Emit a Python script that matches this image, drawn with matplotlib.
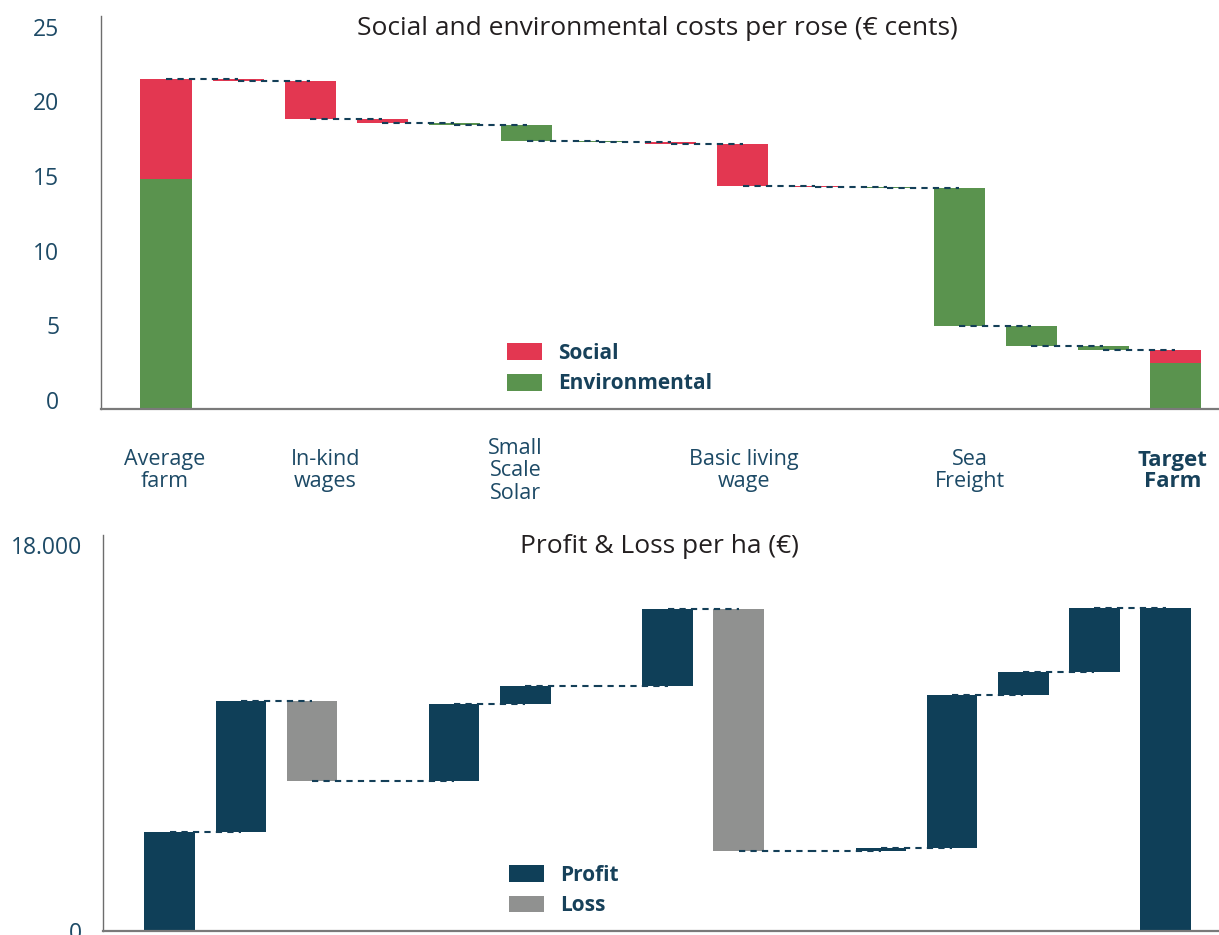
import matplotlib
matplotlib.use('Agg')
import matplotlib.pyplot as plt
import matplotlib.transforms as mtransforms
import numpy as np

plt.rcParams['font.family'] = ['Open Sans', 'DejaVu Sans']

# ---------------- data: costs per rose (EUR cents) ----------------
avg_env = 15.4
avg_social = 6.7
social_delta = [-0.13, -2.54, -0.29, 0, 0, 0, -0.09, -2.83, -0.08, 0, 0, 0, 0]
env_delta = [0, 0, 0, -0.15, -1.03, -0.11, 0, 0, 0, -0.05, -9.21, -1.34, -0.29]
target_env = 3.06
target_social = 0.91
cost_label_pos = [0, 2, 5, 8, 11, 14]
cost_labels = ['Average\nfarm', 'In-kind\nwages', 'Small\nScale\nSolar',
               'Basic living\nwage', 'Sea\nFreight', 'Target\nFarm']
cost_yticks = [0, 5, 10, 15, 20, 25]

# ---------------- data: profit & loss per ha (EUR) ----------------
pl_start = 4600
pl_delta = [6100, -3700, 0, 3600, 800, 0, 3600, -11300, 0, 170, 7140, 1040, 3000]
pl_target = 15050
pl_yticks = [0, 18000]
pl_yticklabels = ['0', '18.000']

# ---------------- styles ----------------
RED = '#E33751'
GREEN = '#5A934E'
NAVY = '#0F3F58'
GRAY = '#909190'
TXT = '#1D4A66'
TITLE = '#231F20'
W = 0.71
DASH = (0, (3, 2.5))

FW, FH = 1219, 935
fig = plt.figure(figsize=(FW / 100, FH / 100), dpi=100)

def frac(l, t, r, b):
    return [l / FW, 1 - b / FH, (r - l) / FW, (b - t) / FH]

ax1 = fig.add_axes(frac(101, 16, 1219, 409))
ax2 = fig.add_axes(frac(103, 535, 1219, 930.7))

for ax in (ax1, ax2):
    for s in ('top', 'right'):
        ax.spines[s].set_visible(False)
    ax.spines['left'].set_color('#6d6d6d')
    ax.spines['left'].set_linewidth(1.0)
    ax.spines['bottom'].set_color('#7a7a7a')
    ax.spines['bottom'].set_linewidth(1.6)
    ax.tick_params(length=0)

# ---------------- top chart ----------------
n = len(social_delta)
ax1.bar(0, avg_env, W, color=GREEN, label='Environmental', zorder=2)
ax1.bar(0, avg_social, W, bottom=avg_env, color=RED, label='Social', zorder=2)
cum = avg_env + avg_social
levels = [cum]
for i, (s, e) in enumerate(zip(social_delta, env_delta)):
    d = s + e
    ax1.bar(i + 1, d, W, bottom=cum, color=RED if s != 0 else GREEN, zorder=2)
    cum += d
    levels.append(cum)
ax1.bar(n + 1, target_env, W, color=GREEN, zorder=2)
ax1.bar(n + 1, target_social, W, bottom=target_env, color=RED, zorder=2)
for i, lv in enumerate(levels):
    ax1.plot([i, i + 1], [lv, lv], ls=DASH, color='#143F58', lw=1.5, zorder=3)

sp1 = 72.1
ax1.set_xlim((101 - 166) / sp1, (1219 - 166) / sp1)
ax1.set_ylim(0, 393 / 14.93)
ax1.set_yticks(cost_yticks)
ax1.set_yticklabels([str(v) for v in cost_yticks], fontsize=16.5, color=TXT)
for lbl in ax1.get_yticklabels():
    lbl.set_va('baseline')
ax1.tick_params(axis='y', pad=30)
ax1.set_xticks(cost_label_pos)
ax1.set_xticklabels(cost_labels, fontsize=15.5, color=TXT, linespacing=1.08)
ax1.tick_params(axis='x', pad=44.5)
xoffs = [-1, 15, -11, 1, 11, -3]
for lbl, off in zip(ax1.get_xticklabels(), xoffs):
    lbl.set_va('center')
    lbl.set_transform(lbl.get_transform() + mtransforms.ScaledTranslation(off / 100, 0, fig.dpi_scale_trans))
last = ax1.get_xticklabels()[-1]
last.set_fontweight('bold')
last.set_color('#17415A')
last.set_fontsize(16)
last.set_linespacing(1.0)
ax1.text(0.498, 0.969, 'Social and environmental costs per rose (€ cents)',
         transform=ax1.transAxes, ha='center', va='center', fontsize=19, color=TITLE)
h, l = ax1.get_legend_handles_labels()
ax1.legend([h[1], h[0]], [l[1], l[0]], loc='upper left',
           bbox_to_anchor=(507 / FW, 1 - 343 / FH), bbox_transform=fig.transFigure,
           frameon=False, borderpad=0, borderaxespad=0, handlelength=1.7, handleheight=0.88,
           handletextpad=0.75, labelspacing=0.45,
           prop={'weight': 'bold', 'size': 15}, labelcolor='#17415A')

# ---------------- bottom chart ----------------
ax2.bar(0, pl_start, W, color=NAVY, label='Profit', zorder=2)
cum = pl_start
levels = [cum]
loss_done = False
for i, d in enumerate(pl_delta):
    if d < 0 and not loss_done:
        ax2.bar(i + 1, d, W, bottom=cum, color=GRAY, label='Loss', zorder=2)
        loss_done = True
    else:
        ax2.bar(i + 1, d, W, bottom=cum, color=GRAY if d < 0 else NAVY, zorder=2)
    cum += d
    levels.append(cum)
ax2.bar(len(pl_delta) + 1, pl_target, W, color=NAVY, zorder=2)
for i, lv in enumerate(levels):
    ax2.plot([i, i + 1], [lv, lv], ls=DASH, color='#143F58', lw=1.5, zorder=3)

sp2 = 71.13
ax2.set_xlim((103 - 169.7) / sp2, (1219 - 169.7) / sp2)
ax2.set_ylim(0, 395.7 * 18000 / (930.7 - 545))
ax2.set_xticks([])
ax2.set_yticks(pl_yticks)
ax2.set_yticklabels(pl_yticklabels, fontsize=16.5, color=TXT)
ax2.tick_params(axis='y', pad=15)
ax2.text(0.499, 0.970, 'Profit & Loss per ha (€)', transform=ax2.transAxes,
         ha='center', va='center', fontsize=19, color=TITLE)
ax2.legend(loc='upper left', bbox_to_anchor=(509 / FW, 1 - 865 / FH), bbox_transform=fig.transFigure,
           frameon=False, borderpad=0, borderaxespad=0, handlelength=1.7, handleheight=0.85,
           handletextpad=0.75, labelspacing=0.45,
           prop={'weight': 'bold', 'size': 15}, labelcolor='#17415A')

fig.savefig('out.png', dpi=100)
